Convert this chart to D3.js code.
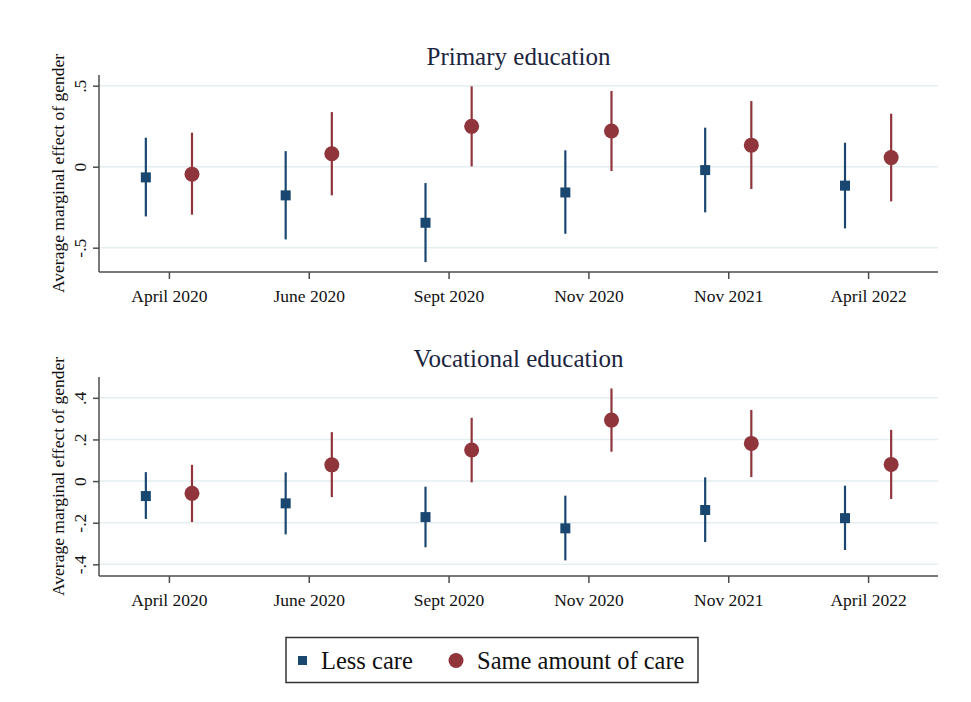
<!DOCTYPE html>
<html>
<head>
<meta charset="utf-8">
<script src="https://cdn.jsdelivr.net/npm/d3@7"></script>
<style>
  html, body { margin: 0; padding: 0; background: #fff; }
  svg { display: block; }
  text { font-family: "Liberation Serif", "Times New Roman", serif; }
</style>
</head>
<body>
<svg id="chart" width="971" height="702"></svg>
<script>
// Survey waves (x categories)
const waves = ["April 2020", "June 2020", "Sept 2020", "Nov 2020", "Nov 2021", "April 2022"];

// Primary education: estimates and 95% CI bounds
const primaryLessEst  = [-0.066, -0.177, -0.346, -0.159, -0.021, -0.117];
const primaryLessLo   = [-0.307, -0.449, -0.589, -0.414, -0.282, -0.381];
const primaryLessHi   = [ 0.179,  0.096, -0.101,  0.101,  0.241,  0.148];
const primarySameEst  = [-0.046,  0.080,  0.249,  0.220,  0.133,  0.056];
const primarySameLo   = [-0.296, -0.177,  0.002, -0.027, -0.138, -0.214];
const primarySameHi   = [ 0.210,  0.337,  0.496,  0.467,  0.405,  0.327];

// Vocational education: estimates and 95% CI bounds
const vocLessEst  = [-0.072, -0.107, -0.173, -0.227, -0.139, -0.178];
const vocLessLo   = [-0.182, -0.256, -0.318, -0.381, -0.293, -0.331];
const vocLessHi   = [ 0.043,  0.042, -0.027, -0.070,  0.018, -0.022];
const vocSameEst  = [-0.059,  0.078,  0.149,  0.293,  0.181,  0.080];
const vocSameLo   = [-0.197, -0.077, -0.006,  0.141,  0.019, -0.086];
const vocSameHi   = [ 0.078,  0.235,  0.304,  0.445,  0.342,  0.246];

// Axis ticks
const primaryTicks = [-0.5, 0, 0.5];
const primaryTickLabels = ["-.5", "0", ".5"];
const vocTicks = [-0.4, -0.2, 0, 0.2, 0.4];
const vocTickLabels = ["-.4", "-.2", "0", ".2", ".4"];

const seriesNames = ["Less care", "Same amount of care"];
const seriesColors = ["#1a476f", "#90353b"];

const serif = "Liberation Serif, Times New Roman, serif";
const svg = d3.select("#chart");

const x = d3.scaleLinear().domain([0.5, 6.5]).range([99, 938]);
const offset = 0.165;

const panels = [
  {
    title: "Primary education",
    y: d3.scaleLinear().domain([-0.65, 0.566]).range([272, 75]),
    ticks: primaryTicks, tickLabels: primaryTickLabels,
    series: [
      { est: primaryLessEst, lo: primaryLessLo, hi: primaryLessHi },
      { est: primarySameEst, lo: primarySameLo, hi: primarySameHi }
    ]
  },
  {
    title: "Vocational education",
    y: d3.scaleLinear().domain([-0.456, 0.50]).range([576, 377]),
    ticks: vocTicks, tickLabels: vocTickLabels,
    series: [
      { est: vocLessEst, lo: vocLessLo, hi: vocLessHi },
      { est: vocSameEst, lo: vocSameLo, hi: vocSameHi }
    ]
  }
];

const axisColor = "#4d4d4d";
const gridColor = "#e4eef0";
const textColor = "#111";

panels.forEach(p => {
  const y = p.y;
  const [yBottom, yTop] = y.range();
  const [xLeft, xRight] = x.range();
  const g = svg.append("g");

  // gridlines
  g.selectAll("line.grid").data(p.ticks).join("line")
    .attr("x1", xLeft).attr("x2", xRight)
    .attr("y1", d => y(d)).attr("y2", d => y(d))
    .attr("stroke", gridColor).attr("stroke-width", 1.5);

  // y axis
  const yAxis = d3.axisLeft(y).tickValues(p.ticks)
    .tickFormat((d, i) => p.tickLabels[i]).tickSize(6).tickPadding(0);
  const ya = g.append("g").attr("transform", `translate(${xLeft},0)`).call(yAxis);
  ya.attr("font-family", serif);
  ya.select(".domain").attr("stroke", axisColor).attr("stroke-width", 1.5)
    .attr("d", `M0,${yBottom}V${yTop}`);
  ya.selectAll(".tick line").attr("stroke", axisColor).attr("stroke-width", 1.5);
  ya.selectAll(".tick text")
    .attr("x", 0).attr("y", 0)
    .attr("transform", "translate(-13,0) rotate(-90)")
    .attr("text-anchor", "middle").attr("dy", 0)
    .attr("font-size", 17.5).attr("fill", textColor)
    .attr("font-family", serif);

  // x axis
  const xAxis = d3.axisBottom(x).tickValues(d3.range(1, waves.length + 1))
    .tickFormat(d => waves[d - 1]).tickSize(7).tickPadding(0);
  const xa = g.append("g").attr("transform", `translate(0,${yBottom})`).call(xAxis);
  xa.attr("font-family", serif);
  xa.select(".domain").attr("stroke", axisColor).attr("stroke-width", 1.5)
    .attr("d", `M${xLeft},0H${xRight}`);
  xa.selectAll(".tick line").attr("stroke", axisColor).attr("stroke-width", 1.5);
  xa.selectAll(".tick text")
    .attr("y", 30).attr("dy", 0)
    .attr("font-size", 17.5).attr("fill", textColor)
    .attr("font-family", serif);

  // y axis title
  g.append("text")
    .attr("transform", `translate(64,${(yTop + yBottom) / 2}) rotate(-90)`)
    .attr("text-anchor", "middle")
    .attr("font-family", serif)
    .attr("font-size", 17.5).attr("fill", textColor)
    .text("Average marginal effect of gender");

  // panel title
  g.append("text")
    .attr("x", (xLeft + xRight) / 2).attr("y", yTop - 10)
    .attr("text-anchor", "middle")
    .attr("font-family", serif)
    .attr("font-size", 25).attr("fill", "#1c2540")
    .text(p.title);

  // confidence intervals and point estimates
  p.series.forEach((s, si) => {
    const dx = si === 0 ? -offset : offset;
    const color = seriesColors[si];
    const rows = waves.map((w, i) => ({ i: i + 1, est: s.est[i], lo: s.lo[i], hi: s.hi[i] }));
    g.selectAll(null).data(rows).join("line")
      .attr("x1", d => x(d.i + dx)).attr("x2", d => x(d.i + dx))
      .attr("y1", d => y(d.lo)).attr("y2", d => y(d.hi))
      .attr("stroke", color).attr("stroke-width", 2.2);
    if (si === 0) {
      g.selectAll(null).data(rows).join("rect")
        .attr("x", d => x(d.i + dx) - 5).attr("y", d => y(d.est) - 5)
        .attr("width", 10).attr("height", 10)
        .attr("fill", color);
    } else {
      g.selectAll(null).data(rows).join("circle")
        .attr("cx", d => x(d.i + dx)).attr("cy", d => y(d.est))
        .attr("r", 7.5)
        .attr("fill", color);
    }
  });
});

// legend
const legend = svg.append("g").attr("font-family", serif);
legend.append("rect")
  .attr("x", 286).attr("y", 637.5).attr("width", 412).attr("height", 45)
  .attr("fill", "#fff").attr("stroke", "#333").attr("stroke-width", 1.5);
legend.append("rect")
  .attr("x", 298).attr("y", 656).attr("width", 9).attr("height", 9)
  .attr("fill", seriesColors[0]);
legend.append("text")
  .attr("x", 321).attr("y", 668.5)
  .attr("font-family", serif)
  .attr("font-size", 24.5).attr("fill", textColor)
  .text(seriesNames[0]);
legend.append("circle")
  .attr("cx", 456).attr("cy", 660.5).attr("r", 7.5)
  .attr("fill", seriesColors[1]);
legend.append("text")
  .attr("x", 477).attr("y", 668.5)
  .attr("font-family", serif)
  .attr("font-size", 24.5).attr("fill", textColor)
  .text(seriesNames[1]);
</script>
</body>
</html>
